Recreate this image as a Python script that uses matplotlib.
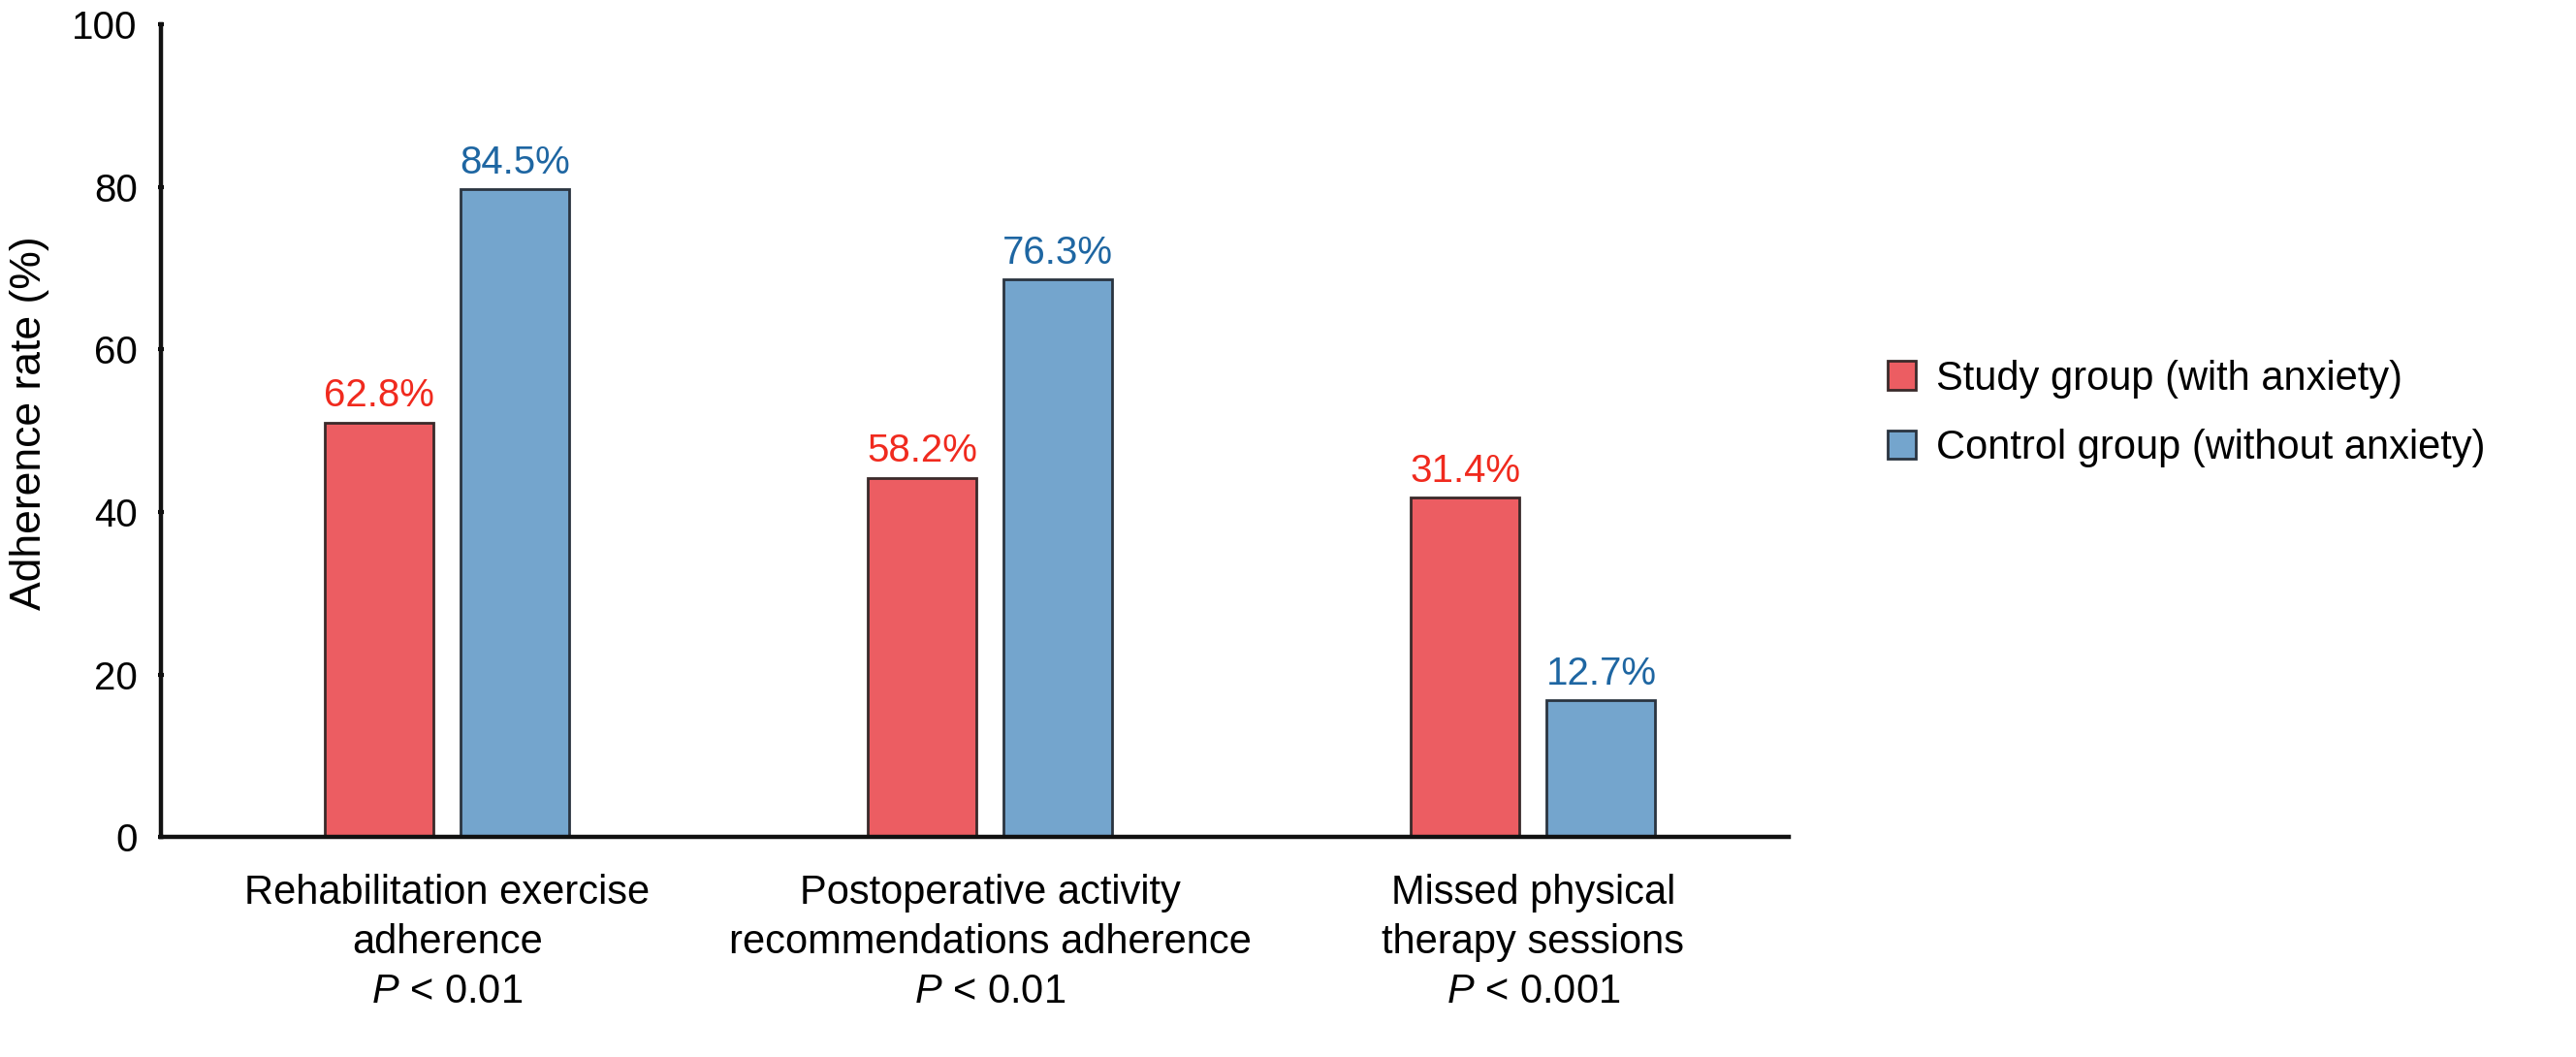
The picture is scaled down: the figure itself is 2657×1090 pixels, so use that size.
import numpy as np
import matplotlib
matplotlib.use("Agg")
import matplotlib.pyplot as plt

# fonts: Arial-like text, italic P through mathtext
plt.rcParams['font.family'] = ['Liberation Sans', 'DejaVu Sans']
plt.rcParams['mathtext.fontset'] = 'custom'
plt.rcParams['mathtext.rm'] = 'Liberation Sans'
plt.rcParams['mathtext.it'] = 'Liberation Sans:italic'

categories = ["Rehabilitation exercise\nadherence\n$P$ < 0.01",
              "Postoperative activity\nrecommendations adherence\n$P$ < 0.01",
              "Missed physical\ntherapy sessions\n$P$ < 0.001"]
group_names = ["Study group (with anxiety)", "Control group (without anxiety)"]

# bar heights as drawn in the figure
study_heights = [51.0, 44.2, 41.8]
control_heights = [79.7, 68.6, 16.8]
# printed labels above bars
study_labels = ["62.8%", "58.2%", "31.4%"]
control_labels = ["84.5%", "76.3%", "12.7%"]

yticks = [0, 20, 40, 60, 80, 100]

red = "#EC5D62"
blue = "#74A5CD"
red_txt = "#F02A1E"
blue_txt = "#1E66A2"
fs = 30

fig = plt.figure(figsize=(26.57, 10.90), dpi=100)
ax = fig.add_axes([0.0625, 0.208, 0.632, 0.769])

x = np.arange(len(categories))
w = 0.2
off = 0.125
b1 = ax.bar(x - off, study_heights, w, color=red, edgecolor="#3a2a2a", linewidth=2,
            label=group_names[0])
b2 = ax.bar(x + off, control_heights, w, color=blue, edgecolor="#2a3440", linewidth=2,
            label=group_names[1])

ax.bar_label(b1, labels=study_labels, padding=6, color=red_txt, fontsize=29)
ax.bar_label(b2, labels=control_labels, padding=6, color=blue_txt, fontsize=29)

ax.set_xlim(-0.527, 2.471)
ax.set_ylim(0, 100)
ax.set_yticks(yticks)
ax.set_xticks(x)
ax.set_xticklabels(categories, fontsize=fs, linespacing=1.36)

for s in ["top", "right"]:
    ax.spines[s].set_visible(False)
for s in ["left", "bottom"]:
    ax.spines[s].set_linewidth(3.2)
    ax.spines[s].set_color("#111111")

ax.tick_params(axis='y', direction='inout', length=5, width=3, labelsize=29, pad=15)
ax.tick_params(axis='x', length=0, pad=27)

fig.text(0.0113, 0.60, "Adherence rate (%)", rotation=90, va='center', ha='center',
         fontsize=32)

fig.legend(handles=[b1, b2], loc='center left', bbox_to_anchor=(0.7186, 0.609),
           frameon=False, fontsize=fs, handlelength=0.7, handleheight=0.7,
           handletextpad=0.5, labelspacing=0.75)

fig.savefig("out.png", dpi=100)
